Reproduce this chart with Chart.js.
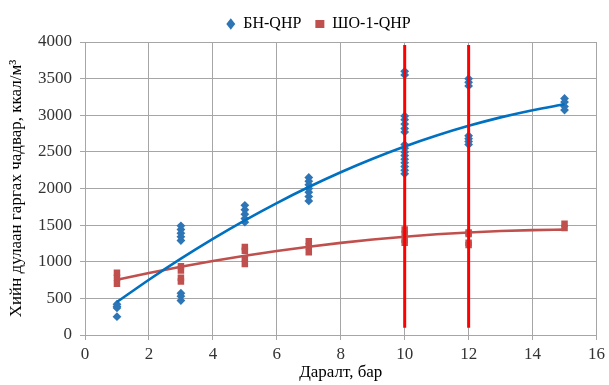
<!DOCTYPE html>
<html>
<head>
<meta charset="utf-8">
<script src="https://cdn.jsdelivr.net/npm/chart.js@4/dist/chart.umd.min.js"></script>
<style>
  html, body { margin: 0; padding: 0; background: #fff; }
  #wrap { width: 609px; height: 385px; }
</style>
</head>
<body>
<div id="wrap"><canvas id="chart" width="609" height="385"></canvas></div>
<script>
// pressure, bar
const pressures = [1, 3, 5, 7, 10, 12, 15];

// БН-QHP measurements at each pressure, kcal/m3
const bnValues = [
  [420, 390, 370, 250],
  [1490, 1440, 1390, 1340, 1290, 570, 530, 470],
  [1770, 1710, 1650, 1590, 1540],
  [2150, 2100, 2050, 2000, 1950, 1890, 1830],
  [3600, 3550, 2990, 2940, 2880, 2820, 2770, 2600, 2550, 2500, 2450, 2400, 2350, 2300, 2250, 2200],
  [3500, 3450, 3400, 2720, 2680, 2640, 2600],
  [3230, 3180, 3120, 3070]
];

// ШО-1-QHP measurements at each pressure, kcal/m3
const shoValues = [
  [850, 780, 700],
  [940, 880, 780, 730],
  [1200, 1150, 1040, 970],
  [1280, 1210, 1130],
  [1440, 1380, 1300, 1260],
  [1400, 1380, 1260, 1230],
  [1520, 1460]
];

// polynomial trendlines: c0 + c1*x + c2*x^2
const bnTrend = [128, 330.5, -8.6];
const shoTrend = [655, 101.7, -3.3];
const trendX = [1, 2, 3, 4, 5, 6, 7, 8, 9, 10, 11, 12, 13, 14, 15];

// red vertical markers
const markerX = [10, 12];
const markerRange = [100, 3960];

const xTicks = [0, 2, 4, 6, 8, 10, 12, 14, 16];
const yTicks = [0, 500, 1000, 1500, 2000, 2500, 3000, 3500, 4000];

function toPoints(values) {
  const pts = [];
  values.forEach((arr, i) => arr.forEach(v => pts.push({ x: pressures[i], y: v })));
  return pts;
}

function trend(c) {
  return trendX.map(x => ({ x: x, y: c[0] + c[1] * x + c[2] * x * x }));
}

const BLUE = '#0070C0';
const RED = '#C0504D';
const FONT = "'Liberation Serif', 'Times New Roman', serif";
Chart.defaults.font.family = FONT;
Chart.defaults.font.size = 16;

const datasets = [
  { label: 'БН-QHP', data: toPoints(bnValues), showLine: false, pointStyle: 'rectRot', pointRadius: 4.4,
    backgroundColor: '#2E75B6', borderColor: '#2E75B6', borderWidth: 0, order: 5 },
  { label: 'ШО-1-QHP', data: toPoints(shoValues), showLine: false, pointStyle: 'rect', pointRadius: 4.6,
    backgroundColor: RED, borderColor: RED, borderWidth: 0, order: 4 },
  { label: 'trend1', data: trend(bnTrend), showLine: true, pointRadius: 0, borderColor: BLUE,
    borderWidth: 2.6, cubicInterpolationMode: 'monotone', order: 2 },
  { label: 'trend2', data: trend(shoTrend), showLine: true, pointRadius: 0, borderColor: RED,
    borderWidth: 2.6, cubicInterpolationMode: 'monotone', order: 3 }
];
markerX.forEach(x => datasets.push({
  label: 'marker', data: markerRange.map(y => ({ x: x, y: y })), showLine: true, pointRadius: 0,
  borderColor: '#FF0000', borderWidth: 3, order: 1
}));

const legendFix = {
  id: 'legendFix',
  beforeInit(chart) {
    const fit = chart.legend.fit;
    chart.legend.fit = function () { fit.call(this); this.height = 40; };
  },
  afterLayout(chart) {
    chart.legend.left += 20;
    chart.legend.right += 20;
  }
};

new Chart(document.getElementById('chart'), {
  type: 'scatter',
  data: { datasets: datasets },
  plugins: [legendFix],
  options: {
    responsive: false,
    animation: false,
    layout: { padding: { left: 0, right: 12, top: 2, bottom: 0 } },
    plugins: {
      tooltip: { enabled: false },
      legend: {
        position: 'top',
        labels: {
          filter: item => item.datasetIndex < 2,
          sort: (a, b) => a.datasetIndex - b.datasetIndex,
          usePointStyle: true,
          pointStyleWidth: 9,
          boxHeight: 8,
          color: '#000',
          font: { family: FONT, size: 16 },
          padding: 14
        }
      }
    },
    scales: {
      x: {
        type: 'linear', min: 0, max: 16,
        afterBuildTicks: s => { s.ticks = xTicks.map(v => ({ value: v })); },
        afterFit: s => { s.height = 50; },
        grid: { color: '#A6A6A6', lineWidth: 1, tickLength: 5 },
        border: { color: '#A6A6A6' },
        ticks: { color: '#333', font: { family: FONT, size: 17 }, padding: 4, maxRotation: 0,
          callback: v => String(v) },
        title: { display: true, text: 'Даралт, бар', color: '#000', font: { family: FONT, size: 17 }, padding: { top: 0, bottom: 2 } }
      },
      y: {
        type: 'linear', min: 0, max: 4000,
        afterBuildTicks: s => { s.ticks = yTicks.map(v => ({ value: v })); },
        afterFit: s => { s.width = 85; },
        grid: { color: '#A6A6A6', lineWidth: 1, tickLength: 5 },
        border: { color: '#A6A6A6' },
        ticks: { color: '#333', font: { family: FONT, size: 17 }, padding: 8,
          callback: v => String(v) },
        title: { display: true, text: 'Хийн дулаан гаргах чадвар, ккал/м³', color: '#000', font: { family: FONT, size: 17 }, padding: { top: 6, bottom: 0 } }
      }
    }
  }
});
</script>
</body>
</html>
